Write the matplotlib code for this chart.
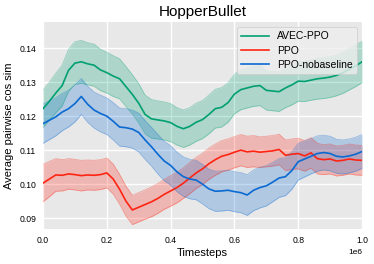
import matplotlib
matplotlib.use("Agg")
import matplotlib.pyplot as plt
import numpy as np

plt.rcParams['font.family'] = ['Liberation Sans', 'DejaVu Sans']

timesteps = [i * 20000 for i in range(51)]

avec_mean = [0.1222, 0.1244, 0.1268, 0.1290, 0.1335, 0.1356, 0.1360, 0.1354, 0.1350, 0.1336,
             0.1328, 0.1318, 0.1310, 0.1287, 0.1264, 0.1238, 0.1205, 0.1192, 0.1189, 0.1186,
             0.1181, 0.1170, 0.1163, 0.1170, 0.1182, 0.1190, 0.1205, 0.1222, 0.1226, 0.1240,
             0.1265, 0.1278, 0.1283, 0.1288, 0.1290, 0.1276, 0.1274, 0.1272, 0.1283, 0.1292,
             0.1303, 0.1302, 0.1306, 0.1310, 0.1312, 0.1315, 0.1320, 0.1328, 0.1338, 0.1348,
             0.1360]
avec_half = [0.0055, 0.0056, 0.0058, 0.0060, 0.0062, 0.0063, 0.0063, 0.0062, 0.0062, 0.0061,
             0.0060, 0.0060, 0.0059, 0.0059, 0.0058, 0.0058, 0.0057, 0.0057, 0.0056, 0.0056,
             0.0056, 0.0055, 0.0055, 0.0055, 0.0056, 0.0056, 0.0057, 0.0057, 0.0058, 0.0058,
             0.0058, 0.0059, 0.0059, 0.0059, 0.0059, 0.0058, 0.0058, 0.0058, 0.0058, 0.0059,
             0.0059, 0.0059, 0.0059, 0.0060, 0.0060, 0.0060, 0.0060, 0.0061, 0.0061, 0.0061,
             0.0061]

ppo_mean = [0.1003, 0.1015, 0.1027, 0.1026, 0.1030, 0.1028, 0.1025, 0.1027, 0.1026, 0.1028,
            0.1033, 0.1015, 0.0985, 0.0950, 0.0924, 0.0932, 0.0940, 0.0948, 0.0958, 0.0970,
            0.0980, 0.0990, 0.1003, 0.1018, 0.1033, 0.1045, 0.1060, 0.1072, 0.1082, 0.1087,
            0.1094, 0.1100, 0.1095, 0.1097, 0.1094, 0.1096, 0.1098, 0.1102, 0.1085, 0.1088,
            0.1090, 0.1083, 0.1092, 0.1075, 0.1072, 0.1074, 0.1068, 0.1070, 0.1074, 0.1071,
            0.1070]
ppo_half = [0.0055, 0.0052, 0.0048, 0.0046, 0.0045, 0.0045, 0.0045, 0.0044, 0.0044, 0.0044,
            0.0044, 0.0044, 0.0044, 0.0044, 0.0043, 0.0043, 0.0043, 0.0044, 0.0044, 0.0044,
            0.0045, 0.0045, 0.0045, 0.0046, 0.0046, 0.0046, 0.0046, 0.0046, 0.0046, 0.0046,
            0.0046, 0.0046, 0.0046, 0.0046, 0.0045, 0.0045, 0.0045, 0.0045, 0.0045, 0.0045,
            0.0045, 0.0045, 0.0045, 0.0045, 0.0044, 0.0044, 0.0044, 0.0044, 0.0044, 0.0044,
            0.0044]

nob_mean = [0.1178, 0.1188, 0.1198, 0.1212, 0.1222, 0.1237, 0.1258, 0.1235, 0.1218, 0.1208,
            0.1200, 0.1185, 0.1168, 0.1166, 0.1162, 0.1152, 0.1130, 0.1110, 0.1088, 0.1068,
            0.1055, 0.1036, 0.1022, 0.1015, 0.1012, 0.1000, 0.0986, 0.0979, 0.0980, 0.0982,
            0.0978, 0.0975, 0.0968, 0.0982, 0.0990, 0.0995, 0.1006, 0.1018, 0.1022, 0.1040,
            0.1066, 0.1074, 0.1082, 0.1090, 0.1093, 0.1090, 0.1082, 0.1080, 0.1083, 0.1088,
            0.1096]
nob_half = [0.0058, 0.0057, 0.0056, 0.0055, 0.0054, 0.0054, 0.0053, 0.0053, 0.0053, 0.0054,
            0.0054, 0.0055, 0.0056, 0.0056, 0.0056, 0.0057, 0.0057, 0.0057, 0.0058, 0.0058,
            0.0058, 0.0058, 0.0058, 0.0058, 0.0058, 0.0058, 0.0058, 0.0059, 0.0059, 0.0059,
            0.0059, 0.0059, 0.0060, 0.0060, 0.0060, 0.0059, 0.0058, 0.0057, 0.0056, 0.0055,
            0.0054, 0.0053, 0.0052, 0.0052, 0.0051, 0.0051, 0.0050, 0.0050, 0.0050, 0.0050,
            0.0050]

series = [
    ("AVEC-PPO", avec_mean, avec_half, "#00A070"),
    ("PPO", ppo_mean, ppo_half, "#FF2412"),
    ("PPO-nobaseline", nob_mean, nob_half, "#0A6AD2"),
]

fig = plt.figure(figsize=(3.74, 2.64), dpi=100)
ax = fig.add_axes([0.115, 0.1326, 0.853, 0.784])
ax.set_facecolor("#E8E8E8")
ax.grid(True, color="white", linewidth=1.0)
ax.set_axisbelow(True)
for s in ax.spines.values():
    s.set_visible(False)

x = np.array(timesteps)
for name, m, h, c in series:
    m = np.array(m); h = np.array(h)
    ax.fill_between(x, m - h, m + h, color=c, alpha=0.25, linewidth=0)
    ax.plot(x, m - h, color=c, alpha=0.35, linewidth=0.6)
    ax.plot(x, m + h, color=c, alpha=0.35, linewidth=0.6)
    ax.plot(x, m, color=c, linewidth=1.2, label=name)

ax.set_xlim(0, 1000000)
ax.set_ylim(0.0868, 0.1477)
ax.set_yticks([0.09, 0.10, 0.11, 0.12, 0.13, 0.14])
ax.set_yticklabels(["0.09", "0.10", "0.11", "0.12", "0.13", "0.14"])
ax.set_xticks([0, 200000, 400000, 600000, 800000, 1000000])
ax.tick_params(axis="both", length=0, labelsize=6.2, pad=5)
ax.xaxis.get_offset_text().set_fontsize(6.0)

ax.set_xlabel("Timesteps", fontsize=8, labelpad=2)
ax.set_ylabel("Average pairwise cos sim", fontsize=8, labelpad=4)
ax.set_title("HopperBullet", fontsize=11, pad=4)

leg = ax.legend(loc="upper right", fontsize=7.5, frameon=True, handlelength=2.6,
                borderaxespad=0.45, labelspacing=0.4, borderpad=0.45, handletextpad=0.8)
leg.get_frame().set_facecolor("#EEEEEE")
leg.get_frame().set_edgecolor("#CCCCCC")
leg.get_frame().set_linewidth(0.6)

fig.savefig("out.png", dpi=100)
